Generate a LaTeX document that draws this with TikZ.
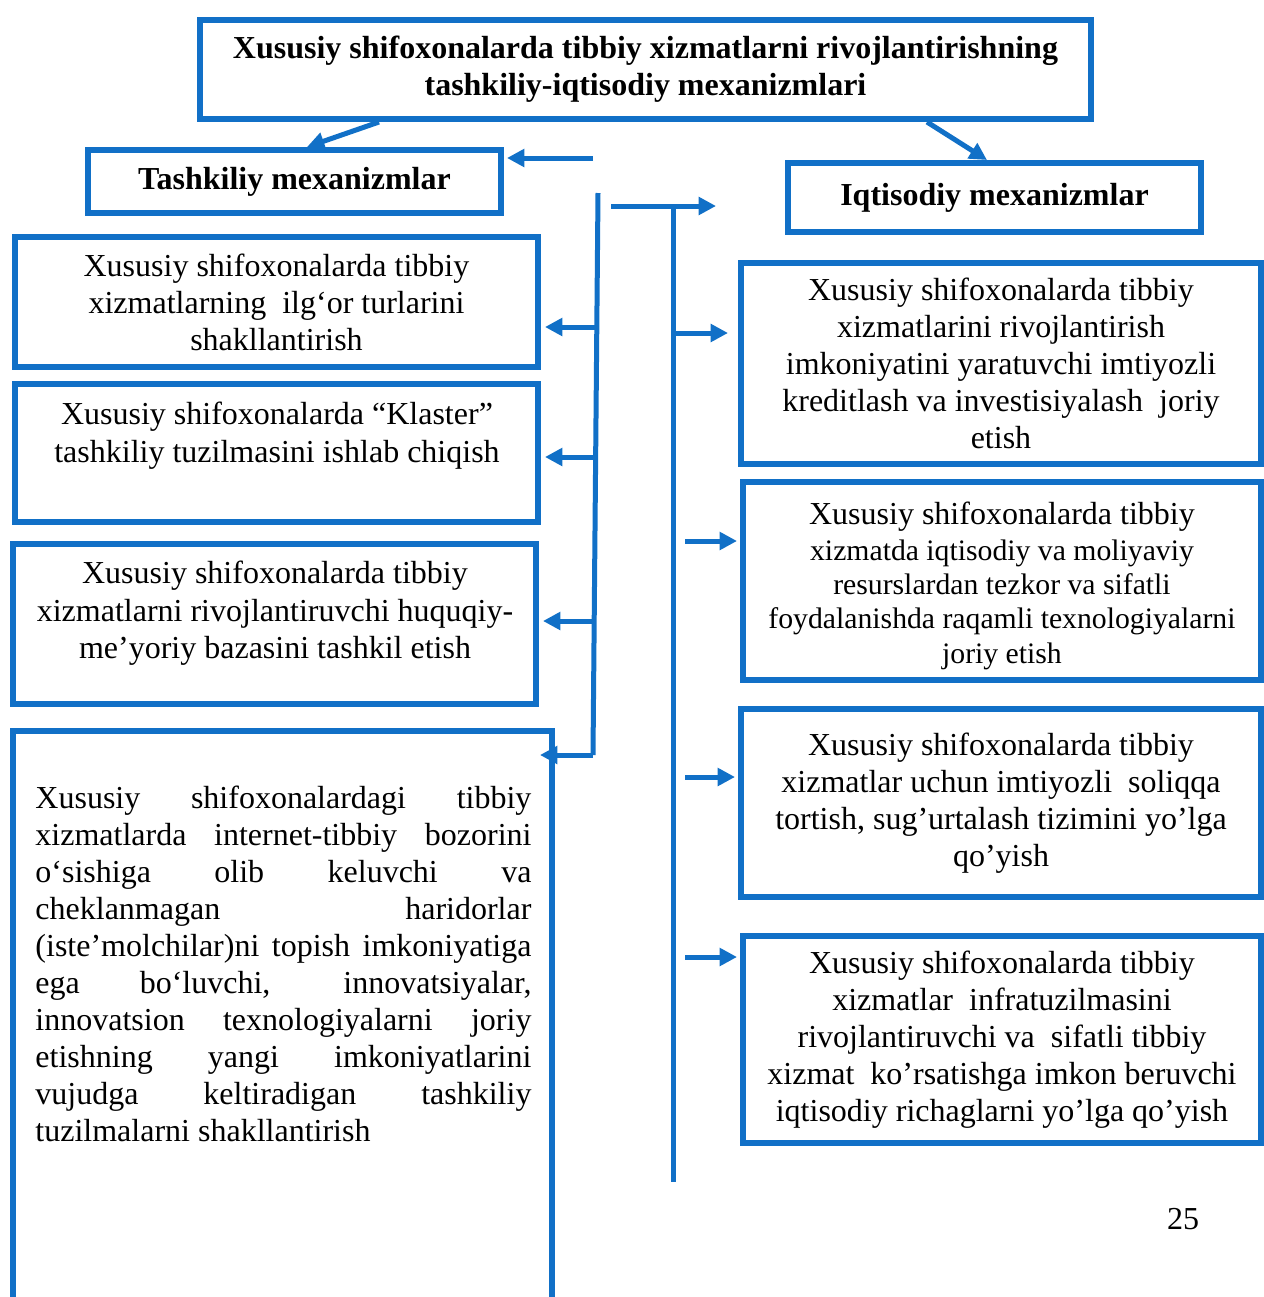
\documentclass[tikz,border=0pt]{standalone}
\usepackage{fontspec}
\setmainfont{Liberation Serif}
\usepackage{xcolor}
\usepackage{tikz}
\usetikzlibrary{arrows.meta, positioning}
\definecolor{mbblue}{RGB}{17,112,199}
\newlength\pxu
\setlength\pxu{0.4375pt}
\newcommand\smline{\fontsize{13}{14.9}\selectfont}

\begin{document}
\begin{tikzpicture}[x=0.4375pt, y=-0.4375pt,
  box/.style={draw=mbblue, line width=6\pxu, inner sep=0pt, align=center, font=\fontsize{14}{16.2}\selectfont},
  headbox/.style={box, font=\fontsize{14}{16.2}\selectfont\bfseries},
  txt/.style={inner sep=0pt, align=center, font=\fontsize{14}{16.2}\selectfont},
  bus/.style={draw=mbblue, line width=5\pxu},
  arr/.style={bus, -{Triangle[length=7.6pt,width=7.6pt]}}]
\useasboundingbox (0,0) rectangle (1264,1297);

% Title and the two branches
\node[headbox, minimum width=891\pxu, minimum height=99\pxu] (top) at (645.5,69.5)
  {Xususiy shifoxonalarda tibbiy xizmatlarni rivojlantirishning\\ tashkiliy-iqtisodiy mexanizmlari};
\node[headbox, minimum width=413\pxu, minimum height=63\pxu] (tash) at (294.5,181.5) {Tashkiliy mexanizmlar};
\node[headbox, minimum width=413\pxu, minimum height=69\pxu] (iqt) at (994.5,197.5) {Iqtisodiy mexanizmlar};
\draw[arr] ([xshift=182\pxu]top.south west) -- ([xshift=222\pxu]tash.north west);
\draw[arr] ([xshift=730\pxu]top.south west) -- ([xshift=202\pxu]iqt.north west);

% Left column
\node[box, minimum width=523\pxu, minimum height=130\pxu] (l1) at (276.5,302)
  {Xususiy shifoxonalarda tibbiy\\ xizmatlarning\ \ ilg‘or turlarini\\ shakllantirish};
\node[box, minimum width=523\pxu, minimum height=138\pxu] (l2) at (276.5,453) {};
\node[txt, anchor=north] (l2t) at (277,402)
  {Xususiy shifoxonalarda “Klaster”\\ tashkiliy tuzilmasini ishlab chiqish};
\node[box, minimum width=523\pxu, minimum height=160\pxu] (l3) at (274.5,624) {};
\node[txt, anchor=north] (l3t) at (275,561)
  {Xususiy shifoxonalarda tibbiy\\ xizmatlarni rivojlantiruvchi huquqiy-\\ me’yoriy bazasini tashkil etish};
\node[box, minimum width=539\pxu, minimum height=579\pxu] (l4) at (282.5,1020.5) {};
\node[txt, anchor=north west, text width=496\pxu, align=justify] (l4t) at (35,785)
  {\hyphenpenalty=10000 \exhyphenpenalty=10000
   Xususiy shifoxonalardagi tibbiy\linebreak
   xizmatlarda internet-tibbiy bozorini\linebreak
   o‘sishiga olib keluvchi va\linebreak
   cheklanmagan haridorlar\linebreak
   (iste’molchilar)ni topish imkoniyatiga\linebreak
   ega bo‘luvchi, innovatsiyalar,\linebreak
   innovatsion texnologiyalarni joriy\linebreak
   etishning yangi imkoniyatlarini\linebreak
   vujudga keltiradigan tashkiliy\linebreak
   tuzilmalarni shakllantirish};

% Right column
\node[box, minimum width=520\pxu, minimum height=201\pxu] (r1) at (1001,363.5)
  {Xususiy shifoxonalarda tibbiy\\ xizmatlarini rivojlantirish\\ imkoniyatini yaratuvchi imtiyozli\\ kreditlash va investisiyalash\ \ joriy\\ etish};
\node[box, minimum width=518\pxu, minimum height=198\pxu] (r2) at (1002,581) {};
\node[txt, anchor=north] (r2t) at (1002,502)
  {Xususiy shifoxonalarda tibbiy\\[-0.5pt] \smline xizmatda iqtisodiy va moliyaviy\\[-1.3pt] \smline resurslardan tezkor va sifatli\\[-1.3pt] \smline foydalanishda raqamli texnologiyalarni\\[-1.3pt] \smline joriy etish};
\node[box, minimum width=520\pxu, minimum height=188\pxu] (r3) at (1001,803)
  {Xususiy shifoxonalarda tibbiy\\ xizmatlar uchun imtiyozli\ \ soliqqa\\ tortish, sug’urtalash tizimini yo’lga\\ qo’yish};
\node[box, minimum width=518\pxu, minimum height=207\pxu] (r4) at (1002,1039.5)
  {Xususiy shifoxonalarda tibbiy\\ xizmatlar\ \ infratuzilmasini\\ rivojlantiruvchi va\ \ sifatli tibbiy\\ xizmat\ \ ko’rsatishga imkon beruvchi\\ iqtisodiy richaglarni yo’lga qo’yish};

% Left bus
\coordinate (tin) at (593,158);
\draw[arr, shorten >=3\pxu] (tin) -- (tin -| tash.east);
\coordinate (lb0) at (598,193);
\coordinate (lb1) at (593,755);
\draw[bus] (lb0) -- (lb1);
\coordinate (la1) at (596,327);
\coordinate (la2) at (595.5,457);
\coordinate (la3) at (595,621);
\coordinate (la4) at (540,755);
\draw[arr, shorten >=4\pxu] (la1) -- (la1 -| l1.east);
\draw[arr, shorten >=4\pxu] (la2) -- (la2 -| l2.east);
\draw[arr, shorten >=4\pxu] (la3) -- (la3 -| l3.east);
\draw[arr] (lb1) -- (la4);

% Right bus
\coordinate (rt0) at (611,206);
\coordinate (rt1) at (716,206);
\draw[arr] (rt0) -- (rt1);
\coordinate (rb0) at (673,206);
\coordinate (rb1) at (673,1182);
\draw[bus] (rb0) -- (rb1);
\coordinate (ra1) at (673,333);
\coordinate (ra2) at (685,541);
\coordinate (ra3) at (685,777);
\coordinate (ra4) at (685,957);
\draw[arr, shorten >=10\pxu] (ra1) -- (ra1 -| r1.west);
\draw[arr, shorten >=3\pxu] (ra2) -- (ra2 -| r2.west);
\draw[arr, shorten >=3\pxu] (ra3) -- (ra3 -| r3.west);
\draw[arr, shorten >=3\pxu] (ra4) -- (ra4 -| r4.west);

\node[txt] (pg) at (1183,1219) {25};
\end{tikzpicture}
\end{document}
